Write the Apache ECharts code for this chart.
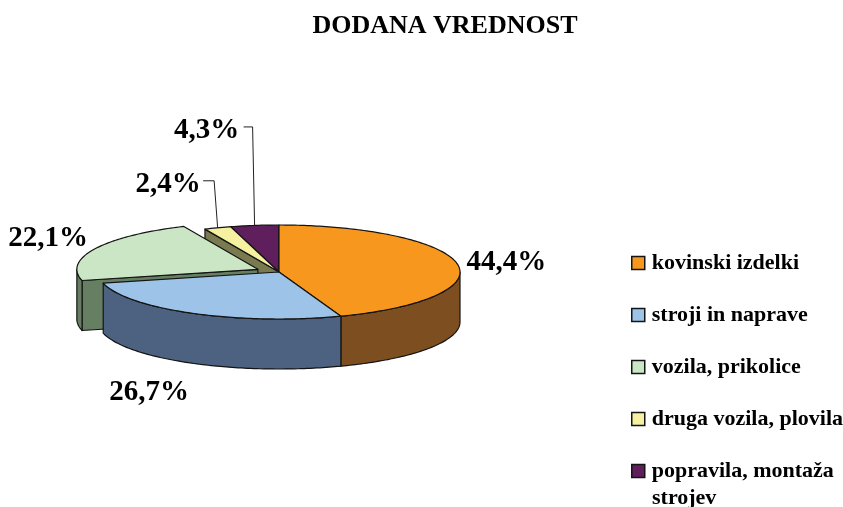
<!DOCTYPE html>
<html><head><meta charset="utf-8">
<style>html,body{margin:0;padding:0;background:#fff}#c{width:843px;height:507px}</style>
<script src="https://cdn.jsdelivr.net/npm/echarts@6/dist/echarts.min.js"></script>
</head><body><div id="c"></div>
<script>
const categories = ['kovinski izdelki','stroji in naprave','vozila, prikolice','druga vozila, plovila','popravila, montaža strojev'];
const values = [44.4, 26.7, 22.1, 2.4, 4.3];
const titleText = 'DODANA VREDNOST';

const topColors  = ['#F7971D','#9DC3E8','#CBE6C4','#F5F1A0','#5E1F5C'];
const sideColors = ['#7D4E20','#4C6280','#667F62','#7A7A50','#2F102E'];
const paintOrder = [4,3,2,0,1]; // back to front
const explode    = [0,0,0.13,0,0];
const labelOffset = [[49,-1],[-44.5,79.4],[-47,-10],[-49.5,-43],[-48,-94.5]];
const leader = [null,null,null,[[-3.5,-47],[-14.5,-47]],[[-2,-98.5],[-11,-98.5]]];

const CX=279, CY=272, RX=181, RY=47, DEPTH=50;
const FONT='"Liberation Serif","Times New Roman",serif';
const OUT='#141414';
const total = values.reduce((a,b)=>a+b,0);

function renderSlice(idx){
  return function(params, api){
    const v = api.value(0);
    let before = 0; for(let i=0;i<idx;i++) before += values[i];
    const a0 = before/total*360, a1 = (before+v)/total*360, mid=(a0+a1)/2;
    const rad = d=>d*Math.PI/180;
    const ox = RX*Math.sin(rad(mid))*explode[idx], oy = -RY*Math.cos(rad(mid))*explode[idx];
    const cx = CX+ox, cy = CY+oy;
    const P = (d,dy)=>[cx+RX*Math.sin(rad(d)), cy-RY*Math.cos(rad(d))+(dy||0)];
    const kids=[];
    const st=(fill)=>({fill:fill,stroke:OUT,lineWidth:1.2,lineJoin:'round'});
    const poly=(pts,fill,z)=>kids.push({type:'polygon',shape:{points:pts},style:st(fill),z2:z,silent:true});
    // radial walls facing the viewer
    if(a0>180 && a0<360) poly([[cx,cy],P(a0),P(a0,DEPTH),[cx,cy+DEPTH]],sideColors[idx],1);
    if(a1>0 && a1<180)   poly([[cx,cy],P(a1),P(a1,DEPTH),[cx,cy+DEPTH]],sideColors[idx],1);
    // outer wall
    const w0=Math.max(a0,90), w1=Math.min(a1,270);
    if(w1>w0){
      const up=[],dn=[];
      for(let d=w0;d<w1;d+=1){up.push(P(d));dn.unshift(P(d,DEPTH));}
      up.push(P(w1));dn.unshift(P(w1,DEPTH));
      poly(up.concat(dn),sideColors[idx],2);
    }
    // top face
    const top=[[cx,cy]];
    for(let d=a0;d<a1;d+=1) top.push(P(d));
    top.push(P(a1));
    poly(top,topColors[idx],3);
    return {type:'group',children:kids};
  };
}
function renderLabel(idx){
  return function(params, api){
    const v = api.value(0);
    let before = 0; for(let i=0;i<idx;i++) before += values[i];
    const mid=(before+v/2)/total*360, r=mid*Math.PI/180;
    const rx=CX+RX*Math.sin(r)*(1+explode[idx]), ry=CY-RY*Math.cos(r)*(1+explode[idx]);
    const kids=[{type:'text',x:rx+labelOffset[idx][0],y:ry+labelOffset[idx][1],silent:true,
      style:{text:v.toFixed(1).replace('.',',')+'%',font:'bold 29px '+FONT,fill:'#000',align:'center',verticalAlign:'middle'}}];
    if(leader[idx]){
      const pts=[[rx,ry]].concat(leader[idx].map(p=>[rx+p[0],ry+p[1]]));
      kids.push({type:'polyline',shape:{points:pts},silent:true,style:{fill:null,stroke:'#222',lineWidth:1}});
    }
    return {type:'group',children:kids};
  };
}

const series=[];
paintOrder.forEach((idx,order)=>{
  series.push({type:'custom',name:categories[idx],coordinateSystem:'none',z:2+order,animation:false,silent:true,
    itemStyle:{color:topColors[idx]},data:[[values[idx]]],renderItem:renderSlice(idx)});
});
series.push({type:'custom',name:'labels',coordinateSystem:'none',z:20,animation:false,silent:true,
  data:[[0]],renderItem:function(params,api){
    const kids=values.map((val,i)=>renderLabel(i)(params,{value:()=>val}));
    return {type:'group',children:kids};
  }});

const chart=echarts.init(document.getElementById('c'),null,{renderer:'canvas'});
const lastParts=['popravila, montaža','strojev'];
chart.setOption({
  animation:false,
  backgroundColor:'#fff',
  title:{text:titleText,left:440,top:8,textAlign:'center',
    textStyle:{fontFamily:FONT,fontWeight:'bold',fontSize:26,color:'#000'}},
  legend:{orient:'vertical',left:626,top:247,itemWidth:13,itemHeight:13,itemGap:30,selectedMode:false,
    formatter:n=>n===categories[4]?lastParts[0]:n,
    textStyle:{fontFamily:FONT,fontWeight:'bold',fontSize:22,color:'#000',lineHeight:20,padding:[0,0,0,2]},
    data:categories.map((n,i)=>({name:n,icon:'rect',itemStyle:{color:topColors[i],borderColor:'#141414',borderWidth:1.5}}))},
  graphic:[{type:'text',left:652,top:487,silent:true,style:{text:lastParts[1],font:'bold 22px '+FONT,fill:'#000'}}],
  series:series
});
</script></body></html>
